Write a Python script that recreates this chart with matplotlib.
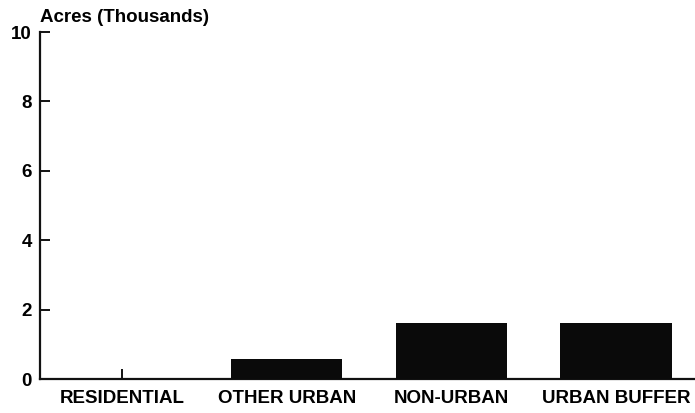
import matplotlib
matplotlib.use("Agg")
import matplotlib.pyplot as plt

# Land area by category, in thousands of acres
categories = ["RESIDENTIAL", "OTHER URBAN", "NON-URBAN", "URBAN BUFFER"]
acres_thousands = [0.0, 0.57, 1.62, 1.62]
y_ticks = [0, 2, 4, 6, 8, 10]

plt.rcParams["font.family"] = ["Liberation Sans", "DejaVu Sans"]
plt.rcParams["font.weight"] = "bold"

fig = plt.figure(figsize=(6.95, 4.13), dpi=100)
ax = fig.add_axes([0.0576, 0.0823, 0.9424, 0.8402])

x = range(len(categories))
ax.bar(x, acres_thousands, width=0.675, color="#0a0a0a", zorder=3)

ax.set_xlim(-0.5, 3.48)
ax.set_ylim(0, 10)
ax.set_yticks(y_ticks)
ax.set_yticklabels([str(t) for t in y_ticks], fontsize=13.5, fontweight="bold")
ax.set_xticks(list(x))
ax.set_xticklabels(categories, fontsize=13.5, fontweight="bold")

for s in ("top", "right"):
    ax.spines[s].set_visible(False)
for s in ("left", "bottom"):
    ax.spines[s].set_linewidth(1.6)
    ax.spines[s].set_color("#111111")

ax.tick_params(axis="y", direction="in", length=7, width=1.3, pad=6)
ax.tick_params(axis="x", direction="in", length=7, width=1.3, pad=8)

fig.text(40 / 695, 1 - 18 / 413, "Acres (Thousands)", fontsize=13.5,
         fontweight="bold", ha="left", va="center")

fig.savefig("out.png", dpi=100)
